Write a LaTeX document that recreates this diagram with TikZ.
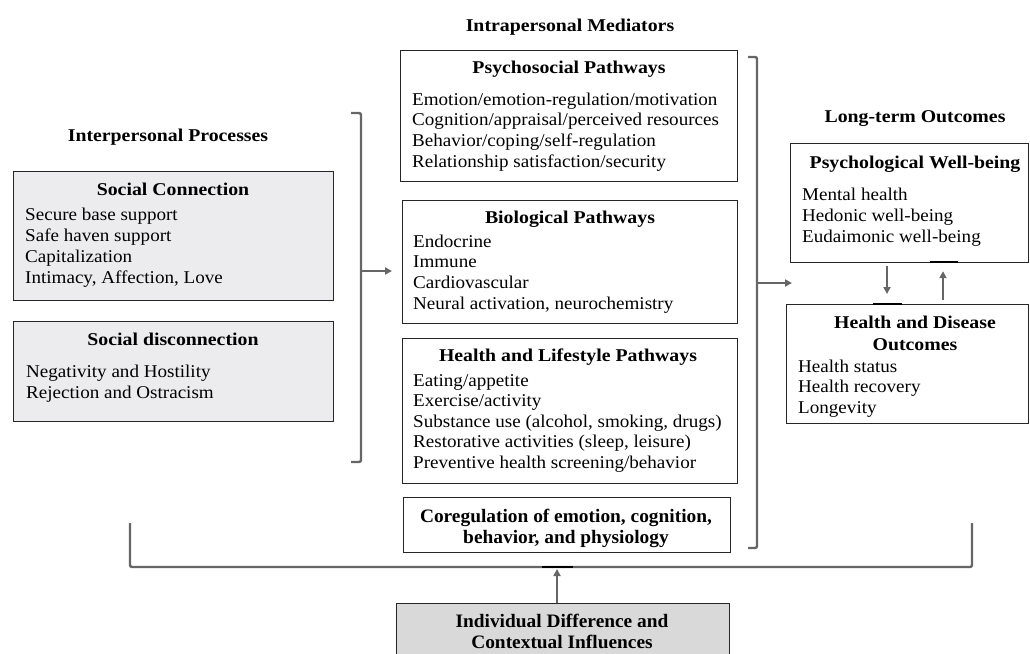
\documentclass[tikz,border=0pt]{standalone}
\usepackage{fontspec}
\setmainfont{Liberation Serif}[FakeStretch=1.06, BoldFeatures={FakeStretch=1.1}]
\newfontfamily\condfont[FakeStretch=1.02]{Liberation Serif}
\usetikzlibrary{arrows.meta}
\definecolor{brk}{HTML}{666666}
\definecolor{lgray}{HTML}{ECECEF}
\definecolor{dgray}{HTML}{D9D9D9}
\begin{document}
\begin{tikzpicture}[x=1pt,y=-1pt,
  box/.style={draw=black!85, line width=1.2pt, inner sep=0pt, anchor=north west},
  hdr/.style={anchor=base, inner sep=0pt, font=\fontsize{18}{20}\selectfont\bfseries},
  ttl/.style={anchor=base, inner sep=0pt, font=\fontsize{18}{20}\selectfont\bfseries},
  itm/.style={anchor=base west, inner sep=0pt, font=\fontsize{18}{20}\selectfont},
  cnd/.style={anchor=base, inner sep=0pt, font=\fontsize{19}{20}\selectfont\condfont\bfseries},
  bracket/.style={draw=brk, line width=2.4pt, rounded corners=2pt},
  arr/.style={draw=brk, line width=2pt, -{Triangle[length=7pt,width=7pt]}},
  tick/.style={draw=black, line width=2.5pt}]
\useasboundingbox (0,0) rectangle (1030,653);

% ---------- headers
\node[hdr] (hIntra) at (570,31) {Intrapersonal Mediators};
\node[hdr] (hInter) at (168,141) {Interpersonal Processes};
\node[hdr] (hLong) at (915,122) {Long-term Outcomes};

% ---------- left boxes
\node[box, fill=lgray, minimum width=320pt, minimum height=129pt] (sc) at (13,171) {};
\node[ttl] (scT) at (173,195) {Social Connection};
\foreach \t [count=\i] in {Secure base support, Safe haven support, Capitalization, {Intimacy, Affection, Love}}
  \node[itm] (sc\i) at (25,{220+21*(\i-1)}) {\t};

\node[box, fill=lgray, minimum width=320pt, minimum height=100pt] (sd) at (13,321) {};
\node[ttl] (sdT) at (173,345) {Social disconnection};
\foreach \t [count=\i] in {Negativity and Hostility, Rejection and Ostracism}
  \node[itm] (sd\i) at (26,{377+21*(\i-1)}) {\t};

% ---------- middle boxes
\node[box, fill=white, minimum width=337pt, minimum height=131pt] (psy) at (400,50) {};
\node[ttl] (psyT) at (569,73) {Psychosocial Pathways};
\foreach \t [count=\i] in {Emotion/emotion-regulation/motivation, Cognition/appraisal/perceived resources, Behavior/coping/self-regulation, Relationship satisfaction/security}
  \node[itm] (psy\i) at (412,{105+20.7*(\i-1)}) {\t};

\node[box, fill=white, minimum width=335pt, minimum height=123pt] (bio) at (402,200) {};
\node[ttl] (bioT) at (570,223) {Biological Pathways};
\foreach \t [count=\i] in {Endocrine, Immune, Cardiovascular, {Neural activation, neurochemistry}}
  \node[itm] (bio\i) at (413,{247+20.7*(\i-1)}) {\t};

\node[box, fill=white, minimum width=335pt, minimum height=145pt] (hl) at (402,338) {};
\node[ttl] (hlT) at (568,361) {Health and Lifestyle Pathways};
\foreach \t [count=\i] in {Eating/appetite, Exercise/activity, {Substance use (alcohol, smoking, drugs)}, {Restorative activities (sleep, leisure)}, Preventive health screening/behavior}
  \node[itm] (hl\i) at (413,{386+20.5*(\i-1)}) {\t};

\node[box, fill=white, minimum width=327pt, minimum height=55pt] (co) at (403,497) {};
\node[cnd] (co1) at (566,522) {Coregulation of emotion, cognition,};
\node[cnd] (co2) at (566,543) {behavior, and physiology};

% ---------- right boxes
\node[box, fill=white, minimum width=238pt, minimum height=119pt] (pw) at (790,143) {};
\node[ttl] (pwT) at (915,168) {Psychological Well-being};
\foreach \t [count=\i] in {Mental health, Hedonic well-being, Eudaimonic well-being}
  \node[itm] (pw\i) at (802,{200+21*(\i-1)}) {\t};

\node[box, fill=white, minimum width=242pt, minimum height=119pt] (hd) at (786,304) {};
\node[ttl] (hdT1) at (915,328) {Health and Disease};
\node[ttl] (hdT2) at (915,350) {Outcomes};
\foreach \t [count=\i] in {Health status, Health recovery, Longevity}
  \node[itm] (hd\i) at (798,{372+20.5*(\i-1)}) {\t};

% ---------- bottom box
\node[box, fill=dgray, minimum width=333pt, minimum height=70pt] (ind) at (396,603) {};
\node[cnd] (ind1) at (562,627) {Individual Difference and};
\node[cnd] (ind2) at (562,648) {Contextual Influences};

% ---------- brackets (coordinates)
\coordinate (lbT0) at (351,113); \coordinate (lbT1) at (361,113);
\coordinate (lbB0) at (351,462); \coordinate (lbB1) at (361,462);
\coordinate (lbM) at (361,271);
\coordinate (rbT0) at (748,57); \coordinate (rbT1) at (757,57);
\coordinate (rbB0) at (748,548); \coordinate (rbB1) at (757,548);
\coordinate (rbM) at (757,283);
\coordinate (bbL) at (130,523); \coordinate (bbLc) at (130,567);
\coordinate (bbR) at (972,523); \coordinate (bbRc) at (972,567);
\coordinate (bbM) at (557,567);

\draw[bracket] (lbT0) -- (lbT1) -- (lbB1) -- (lbB0);
\draw[bracket] (rbT0) -- (rbT1) -- (rbB1) -- (rbB0);
\draw[bracket] (bbL) -- (bbLc) -- (bbRc) -- (bbR);

% ---------- arrows
\coordinate (lA) at (392,271);
\coordinate (rA) at (792,283);
\draw[arr] (lbM) -- (lA);
\draw[arr] (rbM) -- (rA);
\draw[arr] (ind.north -| bbM) -- ([yshift=-2pt]bbM);
\draw[tick] (542,567) -- (573,567);

\draw[arr] ([yshift=-3pt]pw.south -| 887,0) -- ([yshift=10pt]hd.north -| 887,0);
\draw[arr] ([yshift=4pt]hd.north -| 943,0) -- ([yshift=-8pt]pw.south -| 943,0);
\draw[tick] (873,304) -- (902,304);
\draw[tick] (930,262) -- (958,262);
\end{tikzpicture}
\end{document}
